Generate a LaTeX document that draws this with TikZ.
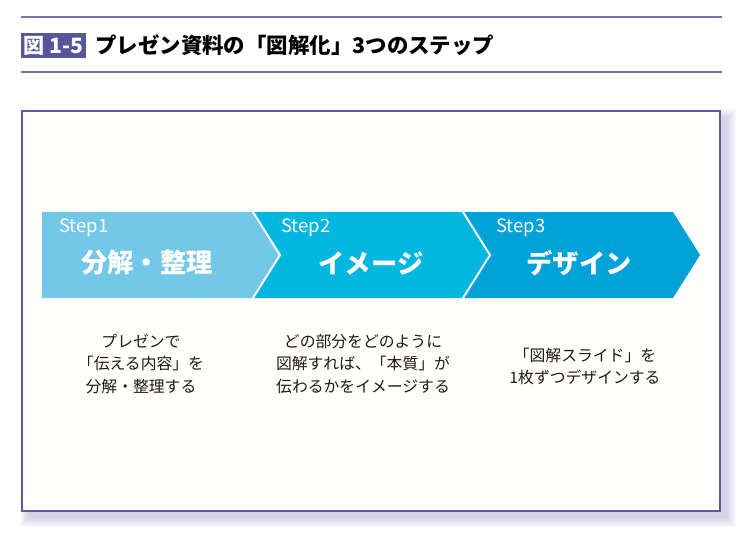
\documentclass[tikz,border=0pt]{standalone}
\usepackage{fontspec}
\setmainfont{Noto Sans CJK JP}
\usepackage{tikz}
\usepackage{xcolor}

\definecolor{rulecol}{HTML}{7275AA}
\definecolor{tagcol}{HTML}{55579A}
\definecolor{framecol}{HTML}{5A5C9E}
\definecolor{shadecol}{HTML}{7C7DB5}
\definecolor{papercol}{HTML}{FEFEFC}
\definecolor{stepone}{HTML}{74C8E7}
\definecolor{steptwo}{HTML}{00B7E0}
\definecolor{stepthree}{HTML}{00A2D9}
\definecolor{inkcol}{HTML}{231815}

\tikzset{
    steplbl/.style={white, anchor=west, inner sep=0pt, font=\fontsize{10.5}{12}\selectfont},
    biglbl/.style={white, font=\bfseries\fontsize{15}{18}\selectfont},
    desclbl/.style={inkcol, align=center, font=\fontsize{9}{13}\selectfont}
}

\begin{document}
\begin{tikzpicture}[x=0.02cm, y=-0.02cm]
                \useasboundingbox (0,0) rectangle (750,537);
                % title rules and heading
                \draw[rulecol, line width=1.1pt] (21,17) -- (722,17);
                \draw[rulecol, line width=1.1pt] (21,72) -- (722,72);
                \fill[tagcol] (21,33) rectangle (86,58);
                \node (tag) at (53.5,45.5) [white, font=\bfseries\fontsize{12}{14}\selectfont] {図 1-5};
                \node (title) at (95,45.5) [anchor=west, inner sep=0pt, font=\bfseries\fontsize{12.2}{14}\selectfont] {プレゼン資料の「図解化」3つのステップ};
                % frame with soft shadow
                \foreach \s in {1,...,10} {
                        \fill[shadecol, opacity=0.04] (30-\s,119-\s) rectangle (726+\s,517+\s);
                    }
                \draw[framecol, fill=papercol, line width=0.9pt] (22,111) rectangle (720,511);
                % chevrons
                \foreach \n/\xl/\nd/\col in {1/42/0/stepone, 2/253/27/steptwo, 3/463/27/stepthree} {
                        \fill[\col] (\xl,212) -- (\xl+210,212) -- (\xl+237,255) -- (\xl+210,298)
                            -- (\xl,298) -- (\xl+\nd,255) -- cycle;
                    }
                \draw[white, line width=1.1pt] (253,212) -- (280,255) -- (253,298);
                \draw[white, line width=1.1pt] (463,212) -- (490,255) -- (463,298);
                % step names
                \node (s1) at (59,228) [steplbl] {Step1};
                \node (s2) at (281,228) [steplbl] {Step2};
                \node (s3) at (496,228) [steplbl] {Step3};
                \node (b1) at (147,263) [biglbl] {分解・整理};
                \node (b2) at (371,263) [biglbl] {イメージ};
                \node (b3) at (579,263) [biglbl] {デザイン};
                % descriptions
                \node (d1) at (141,364) [desclbl] {プレゼンで\\「伝える内容」を\\分解・整理する};
                \node (d2) at (363,364) [desclbl] {どの部分をどのように\\図解すれば、「本質」が\\伝わるかをイメージする};
                \node (d3) at (585,366.5) [desclbl] {「図解スライド」を\\1枚ずつデザインする};
            \end{tikzpicture}
\end{document}
